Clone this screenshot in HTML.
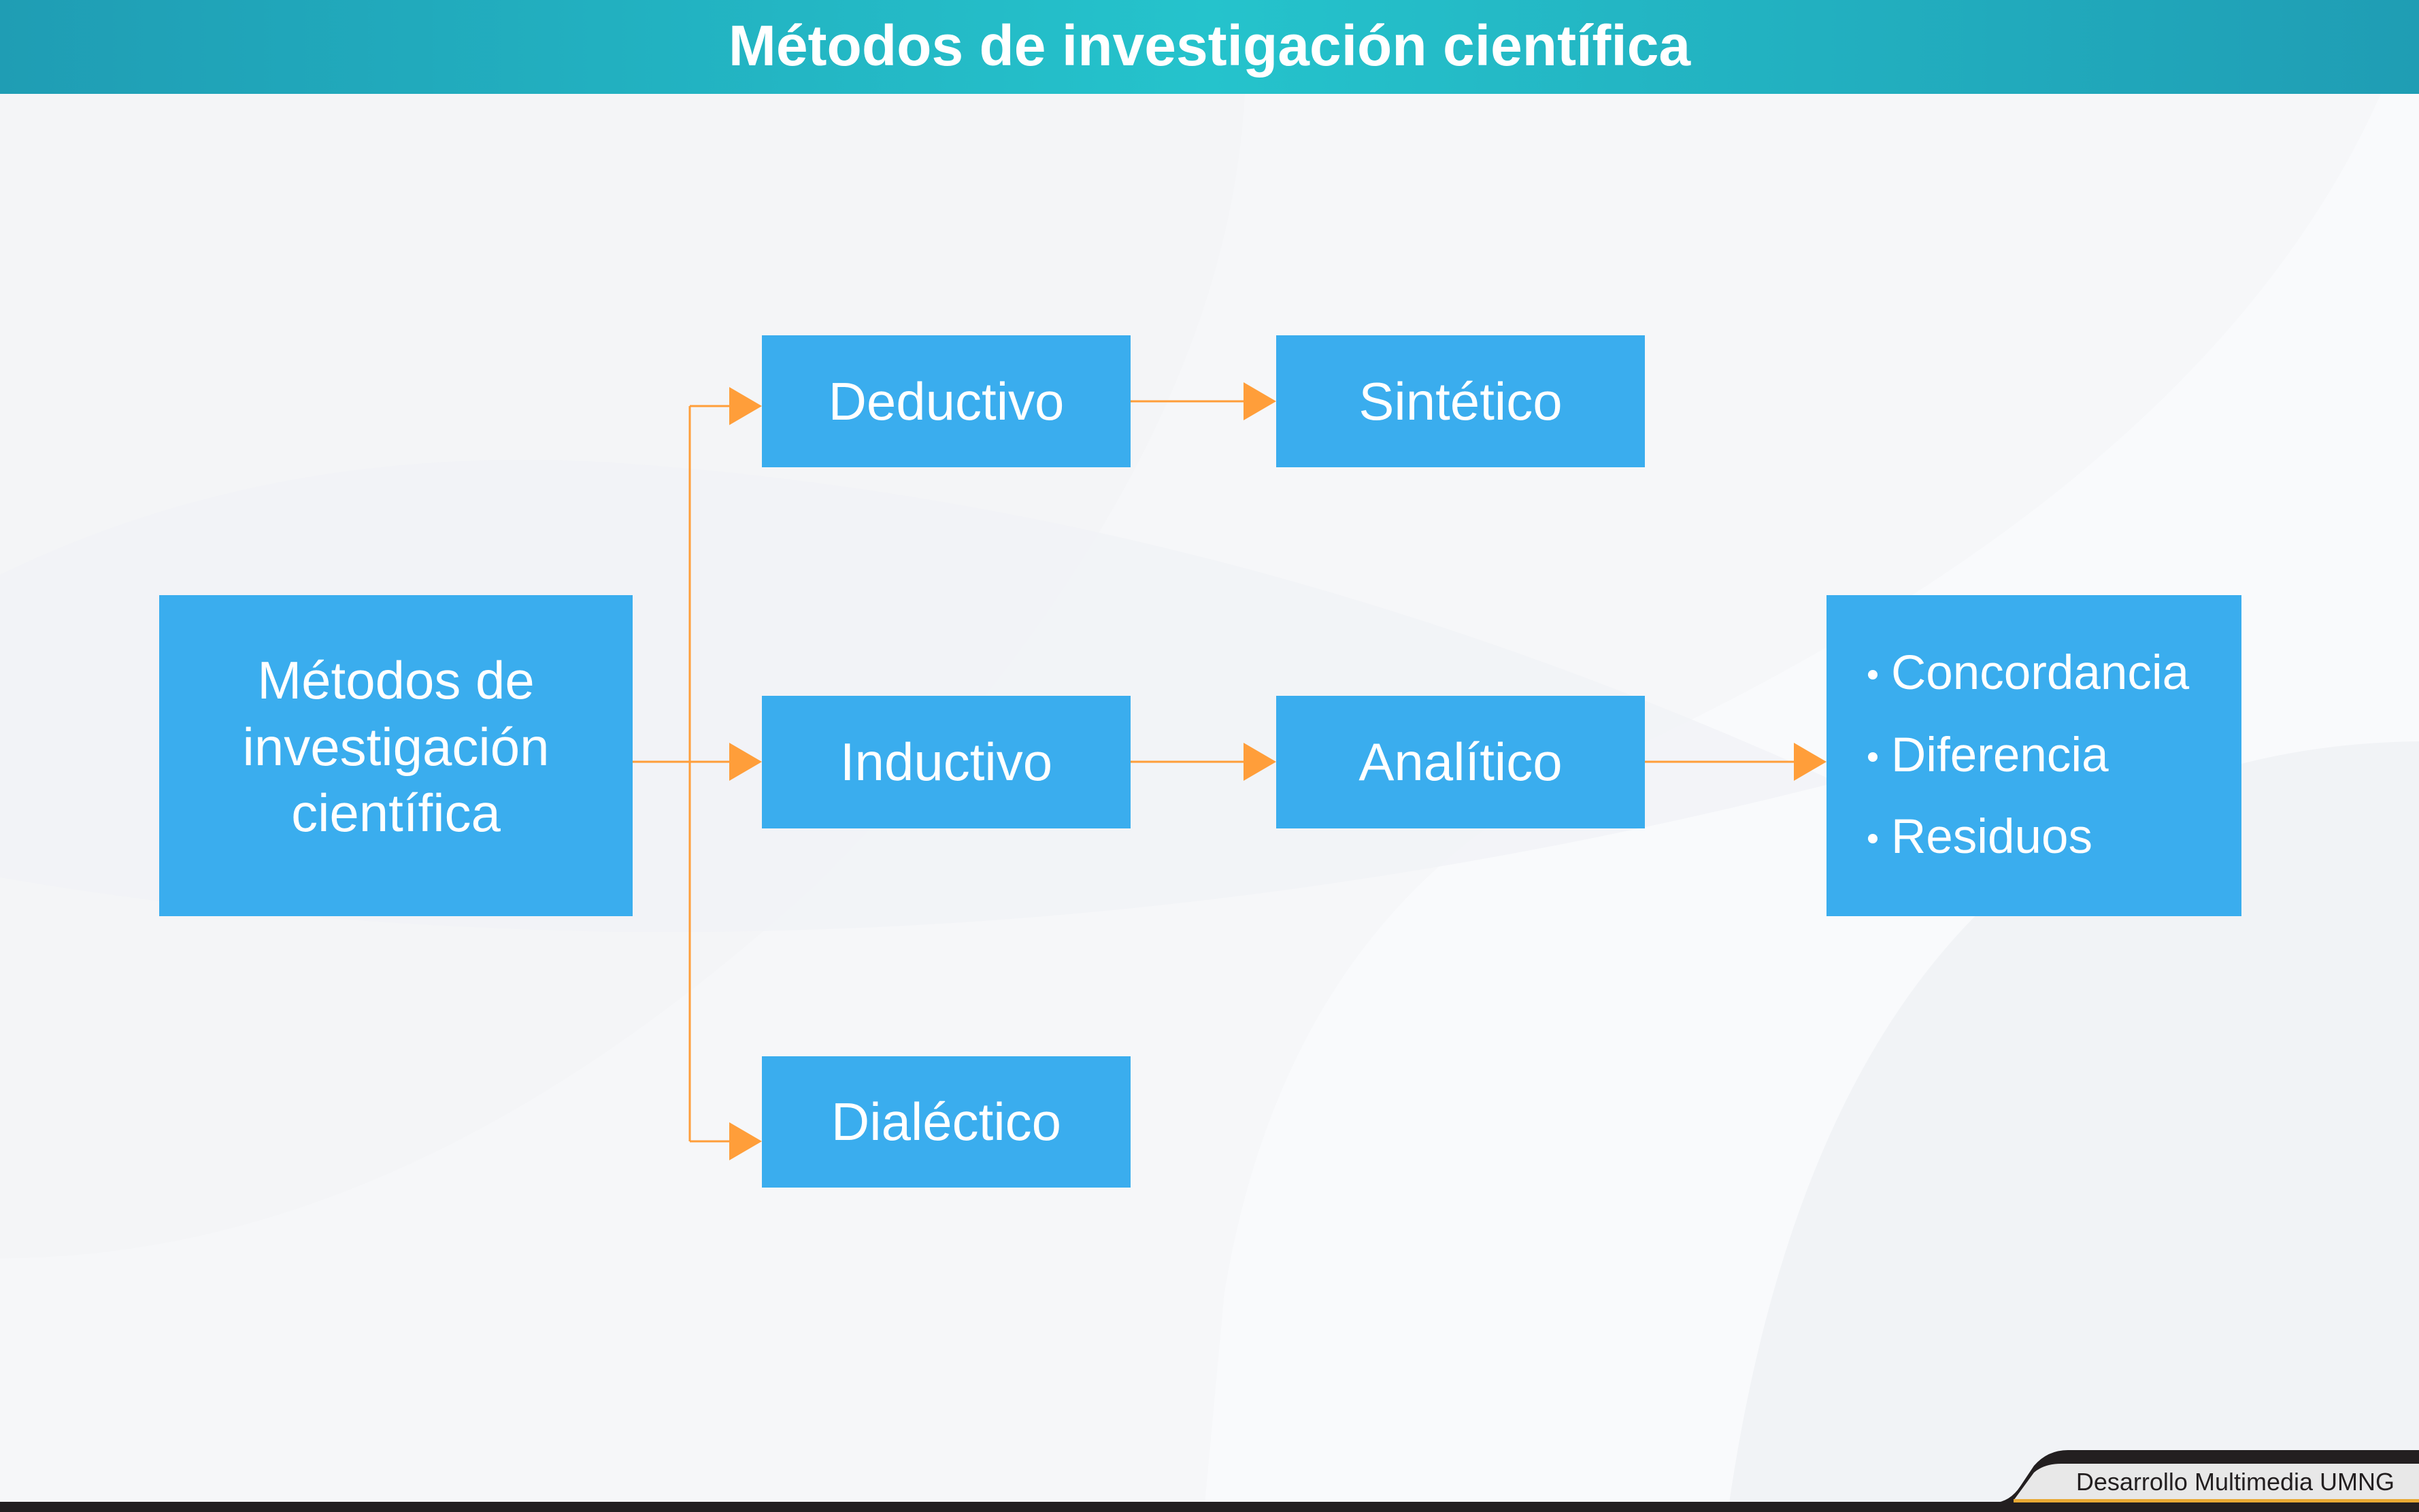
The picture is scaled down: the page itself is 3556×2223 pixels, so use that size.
<!DOCTYPE html>
<html><head><meta charset="utf-8"><style>
html,body{margin:0;padding:0;}
body{width:3556px;height:2223px;overflow:hidden;background:#f6f7f9;font-family:"Liberation Sans",sans-serif;}
</style></head><body>
<svg width="3556" height="2223" viewBox="0 0 3556 2223" xmlns="http://www.w3.org/2000/svg" style="position:absolute;left:0;top:0">
<defs>
<linearGradient id="hg" x1="0" x2="1" y1="0" y2="0">
<stop offset="0" stop-color="#1f9db4"/><stop offset="0.5" stop-color="#25c3cc"/><stop offset="1" stop-color="#1f9db4"/>
</linearGradient>
</defs>
<rect x="0" y="0" width="3556" height="2223" fill="#f6f7f9"/>
<path d="M1830 138 Q1800 700 1200 1300 Q600 1850 0 1850 L0 138 Z" fill="#f4f5f7"/>
<path d="M3556 138 L3500 138 Q3250 700 2400 1100 Q1900 1300 1800 1900 L1770 2223 L3556 2223 Z" fill="#f9fafc"/>
<path d="M0 845 Q400 650 900 680 Q1800 740 2700 1150 Q1800 1380 900 1370 Q400 1360 0 1290 Z" fill="#f1f3f6" opacity="0.8"/>
<path d="M3556 1090 Q2700 1100 2540 2223 L3556 2223 Z" fill="#f1f3f6"/>
<rect x="0" y="0" width="3556" height="138" fill="url(#hg)"/>
<text x="1778" y="96" text-anchor="middle" font-family="Liberation Sans, sans-serif" font-weight="bold" font-size="84" fill="#fff">Métodos de investigación científica</text>
<g stroke="#ff9e3a" stroke-width="3" fill="none">
<path d="M930 1120 L1080 1120"/>
<path d="M1014 597 L1014 1678"/>
<path d="M1014 597 L1080 597"/>
<path d="M1014 1678 L1080 1678"/>
<path d="M1662 590 L1830 590"/>
<path d="M1662 1120 L1830 1120"/>
<path d="M2418 1120 L2640 1120"/>
</g>
<g fill="#ff9e3a">
<polygon points="1072,569 1120,597 1072,625"/>
<polygon points="1072,1092 1120,1120 1072,1148"/>
<polygon points="1072,1650 1120,1678 1072,1706"/>
<polygon points="1828,562 1876,590 1828,618"/>
<polygon points="1828,1092 1876,1120 1828,1148"/>
<polygon points="2637,1092 2685,1120 2637,1148"/>
</g>
<g fill="#3aadee">
<rect x="234" y="875" width="696" height="472"/>
<rect x="1120" y="493" width="542" height="194"/>
<rect x="1876" y="493" width="542" height="194"/>
<rect x="1120" y="1023" width="542" height="195"/>
<rect x="1876" y="1023" width="542" height="195"/>
<rect x="1120" y="1553" width="542" height="193"/>
<rect x="2685" y="875" width="610" height="472"/>
</g>
<g fill="#fff" font-family="Liberation Sans, sans-serif" font-size="78" text-anchor="middle">
<text x="582" y="1027">Métodos de</text>
<text x="582" y="1125">investigación</text>
<text x="582" y="1222">científica</text>
<text x="1391" y="617">Deductivo</text>
<text x="2147" y="617">Sintético</text>
<text x="1391" y="1147">Inductivo</text>
<text x="2147" y="1147">Analítico</text>
<text x="1391" y="1676">Dialéctico</text>
</g>
<g fill="#fff" font-family="Liberation Sans, sans-serif" font-size="71">
<circle cx="2753" cy="992" r="7"/><text x="2780" y="1013">Concordancia</text>
<circle cx="2753" cy="1113" r="7"/><text x="2780" y="1134">Diferencia</text>
<circle cx="2753" cy="1233" r="7"/><text x="2780" y="1254">Residuos</text>
</g>
<rect x="0" y="2208" width="3556" height="15" fill="#231f20"/>
<path d="M2930 2210 Q2955 2208 2970 2185 L2990 2155 Q3010 2132 3040 2132 L3556 2132 L3556 2210 Z" fill="#231f20"/>
<path d="M2960 2206 L2990 2165 Q3005 2152 3030 2152 L3556 2152 L3556 2206 Z" fill="#e8e8e8"/>
<rect x="2960" y="2204" width="596" height="5" fill="#e8a934"/>
<text x="3520" y="2191" text-anchor="end" font-family="Liberation Sans, sans-serif" font-size="36" fill="#231f20">Desarrollo Multimedia UMNG</text>
</svg>
</body></html>
